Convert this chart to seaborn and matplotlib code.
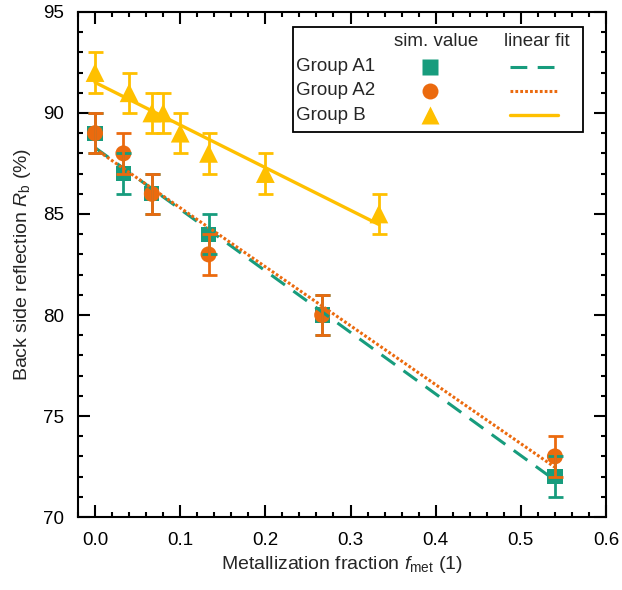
import numpy as np
import pandas as pd
import matplotlib
matplotlib.use("Agg")
import matplotlib.pyplot as plt
from matplotlib.lines import Line2D
from matplotlib.patches import Rectangle
from matplotlib.ticker import MultipleLocator, FormatStrFormatter
import seaborn as sns

# --- data -----------------------------------------------------------------
a1_f = [0.0, 0.0333, 0.0667, 0.1333, 0.2667, 0.54]
a1_r = [89, 87, 86, 84, 80, 72]
a1_err = [1, 1, 1, 1, 1, 1]

a2_f = [0.0, 0.0333, 0.0667, 0.1333, 0.2667, 0.54]
a2_r = [89, 88, 86, 83, 80, 73]
a2_err = [1, 1, 1, 1, 1, 1]

b_f = [0.0, 0.04, 0.0667, 0.08, 0.10, 0.1333, 0.20, 0.3333]
b_r = [92, 91, 90, 90, 89, 88, 87, 85]
b_err = [1, 1, 1, 1, 1, 1, 1, 1]

group_names = ["Group A1", "Group A2", "Group B"]
colors = ["#179C7D", "#EB6A0E", "#FFC000"]
markers = ["s", "o", "^"]
marker_sizes = [11, 11.5, 13.5]

# --- style ----------------------------------------------------------------
sns.set_style("ticks")
plt.rcParams["font.family"] = ["Liberation Sans", "DejaVu Sans"]
plt.rcParams["mathtext.fontset"] = "custom"
plt.rcParams["mathtext.rm"] = "Liberation Sans"
plt.rcParams["mathtext.it"] = "Liberation Sans:italic"
plt.rcParams["axes.linewidth"] = 1.5

fig = plt.figure(figsize=(6.22, 5.90), dpi=100)
ax = fig.add_axes([0.1254, 0.1237, 0.8489, 0.856])

frames = []
for name, f, r, e in zip(group_names, [a1_f, a2_f, b_f], [a1_r, a2_r, b_r],
                         [a1_err, a2_err, b_err]):
    frames.append(pd.DataFrame({"f": f, "R": r, "err": e, "group": name}))
df = pd.concat(frames, ignore_index=True)

# simulated values
for name, c, m, ms in zip(group_names, colors, markers, marker_sizes):
    sub = df[df.group == name]
    sns.scatterplot(data=sub, x="f", y="R", marker=m, s=ms ** 2, color=c,
                    edgecolor="none", linewidth=0, ax=ax, zorder=3)

# linear fits
line_styles = [dict(dashes=(5.5, 3.4), lw=2.2),
               dict(dashes=(0.9, 0.7), lw=2.2),
               dict(ls="-", lw=2.4)]
for name, c, ls in zip(group_names, colors, line_styles):
    sub = df[df.group == name]
    sns.regplot(data=sub, x="f", y="R", scatter=False, ci=None, truncate=True,
                color=c, line_kws=dict(zorder=4, **ls), ax=ax)

# error bars on top of the markers
for name, c in zip(group_names, colors):
    sub = df[df.group == name]
    ax.errorbar(sub.f, sub.R, yerr=sub.err, fmt="none", ecolor=c,
                elinewidth=2.0, capsize=5.4, capthick=2.0, zorder=5)

# --- axes -----------------------------------------------------------------
ax.set_xlim(-0.02, 0.6)
ax.set_ylim(70, 95)
ax.xaxis.set_major_locator(MultipleLocator(0.1))
ax.xaxis.set_minor_locator(MultipleLocator(0.02))
ax.yaxis.set_major_locator(MultipleLocator(5))
ax.yaxis.set_minor_locator(MultipleLocator(1))
ax.xaxis.set_major_formatter(FormatStrFormatter("%.1f"))
ax.tick_params(which="both", direction="in", top=True, right=True,
               width=1.5, colors="black", labelsize=13.5)
ax.tick_params(which="major", length=8.5)
ax.tick_params(which="minor", length=3.8)
ax.tick_params(axis="x", which="major", pad=10.5)
ax.tick_params(axis="y", which="major", pad=10)
for sp in ax.spines.values():
    sp.set_visible(True)
    sp.set_color("black")
    sp.set_linewidth(1.5)

ax.set_xlabel(r"Metallization fraction $f_\mathrm{met}$ (1)", fontsize=14,
              labelpad=4)
ax.set_ylabel(r"Back side reflection $R_\mathrm{b}$ (%)", fontsize=14,
              labelpad=7)

# --- table-style legend ---------------------------------------------------
tr = ax.transAxes
ax.add_patch(Rectangle((0.4066, 0.763), 0.5493, 0.2079, transform=tr,
                       facecolor="white", edgecolor="black", lw=1.3,
                       zorder=6))
ax.text(0.679, 0.941, "sim. value", transform=tr, ha="center", va="center",
        fontsize=13.5, zorder=7)
ax.text(0.8687, 0.941, "linear fit", transform=tr, ha="center", va="center",
        fontsize=13.5, zorder=7)
row_y = [0.8917, 0.8436, 0.796]
for name, c, m, ms, ls, y in zip(group_names, colors, markers, marker_sizes,
                                 line_styles, row_y):
    ax.text(0.413, y, name, transform=tr, ha="left", va="center",
            fontsize=13.5, zorder=7)
    ax.add_line(Line2D([0.6667], [y], transform=tr, marker=m, ms=ms,
                       color=c, mec="none", ls="none", zorder=7))
    ax.add_line(Line2D([0.818, 0.9097], [y, y], transform=tr, color=c,
                       zorder=7, **ls))

fig.savefig("out.png", dpi=100)
